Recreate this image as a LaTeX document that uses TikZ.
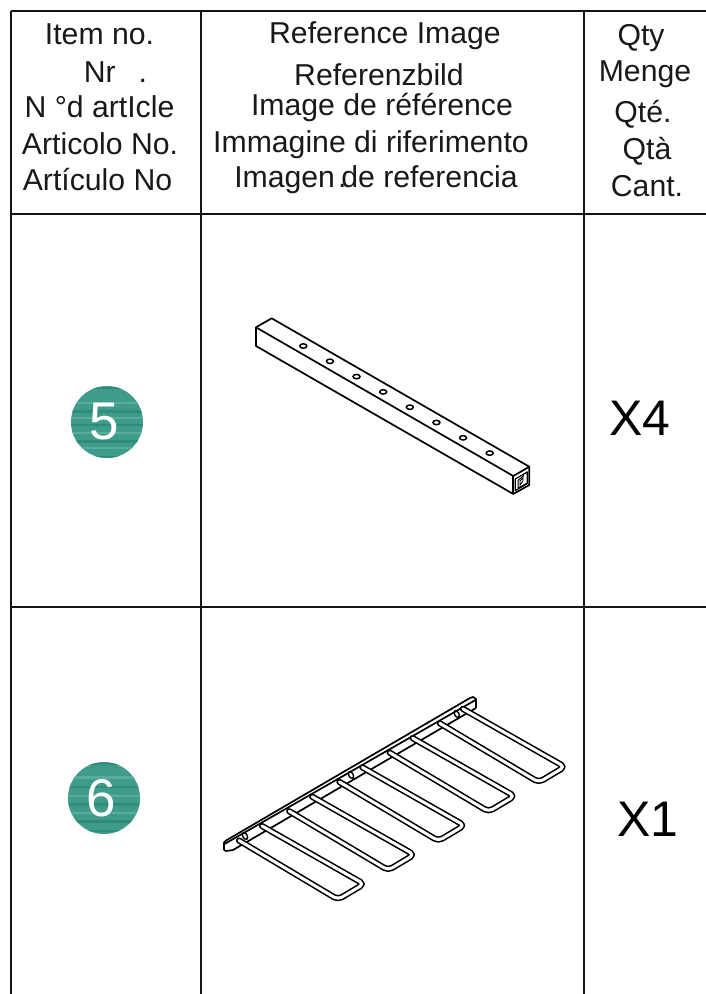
\documentclass[tikz,border=0pt]{standalone}
\usepackage{fontspec}
\setmainfont{Liberation Sans}
\definecolor{teal1}{HTML}{3F9C8A}
\definecolor{teal2}{HTML}{2F8C7A}
\definecolor{teal3}{HTML}{5AAC9C}
\tikzset{
  grid line/.style={line width=1.9pt,draw=black!92},
  part line/.style={line width=1.7pt,line join=round},
  head/.style={font=\fontsize{30.2}{31}\selectfont,anchor=base,inner sep=0pt,text=black!90},
  qtyt/.style={font=\fontsize{50}{50}\selectfont,anchor=base,inner sep=0pt,text=black},
  numt/.style={font=\fontsize{53}{53}\selectfont,anchor=center,inner sep=0pt,text=white},
  rod outer/.style={line width=6.2pt,draw=black,line cap=round,line join=round,rounded corners=4.5pt},
  rod inner/.style={line width=3pt,draw=white,line cap=round,line join=round,rounded corners=4.5pt},
  badge/.style={circle,fill=teal1,minimum size=72pt,inner sep=0pt}
}
\begin{document}
\begin{tikzpicture}[x=1pt,y=-1pt]
\useasboundingbox (0,0) rectangle (706,994);
\fill[white] (0,0) rectangle (706,994);
% grid
\coordinate (gTL) at (11,11); \coordinate (gTR) at (706,11);
\coordinate (gML) at (11,214); \coordinate (gMR) at (706,214);
\coordinate (gNL) at (11,607); \coordinate (gNR) at (706,607);
\coordinate (gBL) at (11,994);
\coordinate (c1T) at (201,11); \coordinate (c1B) at (201,994);
\coordinate (c2T) at (584,11); \coordinate (c2B) at (584,994);
\draw[grid line] (gTL) -- (gTR);
\draw[grid line] (gML) -- (gMR);
\draw[grid line] (gNL) -- (gNR);
\draw[grid line] (gTL) -- (gBL);
\draw[grid line] (c1T) -- (c1B);
\draw[grid line] (c2T) -- (c2B);
% header col 1
\node[head] (h11) at (99.5,44) {Item no.};
\node[head] (h12) at (115.5,82) {Nr\hspace{23pt}.};
\node[head] (h13) at (99.5,117) {N °d artIcle};
\node[head] (h14) at (100,154) {Articolo No.};
\node[head] (h15) at (97.5,190) {Artículo No};
% header col 2
\node[head] (h21) at (385,43) {Reference Image};
\node[head] (h22) at (379,85) {Referenzbild};
\node[head] (h23) at (382,115) {Image de référence};
\node[head] (h24) at (371,152) {Immagine di riferimento};
\node[head] (h25) at (376,187) {Imagen\kern3pt.\kern-5pt de referencia};
% header col 3
\node[head] (h31) at (641,45) {Qty};
\node[head] (h32) at (645,81) {Menge};
\node[head] (h33) at (643,122) {Qté.};
\node[head] (h34) at (647,159) {Qtà};
\node[head] (h35) at (647,196) {Cant.};
% badges
\node[badge] (b5) at (107,422) {};
\node[badge] (b6) at (104,798) {};
\begin{scope}
\clip (107,422) circle (36);
\foreach \y/\h/\c in {387/2/teal2,402/2/teal3,410/3/teal2,417/2/teal3,424/2/teal2,432/2/teal3,440/3/teal2,447/2/teal3,456/2/teal2}
  \fill[\c] (60,\y) rectangle (150,\y+\h);
\end{scope}
\begin{scope}
\clip (104,798) circle (36);
\foreach \y/\h/\c in {763/2/teal2,776/3/teal3,786/2/teal2,795/2/teal3,803/3/teal2,812/2/teal3,820/3/teal2,830/2/teal2}
  \fill[\c] (60,\y) rectangle (150,\y+\h);
\end{scope}
\node[numt] at (104.5,422) {5};
\node[numt] at (101.5,798) {6};
% quantities
\node[qtyt] (q5) at (640,435) {X4};
\node[qtyt] (q6) at (648,836) {X1};
% beam
\draw[part line] (256,327.3) -- (271.7,318.3) -- (529.3,466.7) -- (529.3,485) -- (513.3,494) -- (256,346) -- cycle;
\draw[part line] (256,327.3) -- (513.3,476) -- (529.3,466.7);
\draw[part line] (513.3,476) -- (513.3,494);
\draw[line width=1.2pt,line join=round] (515.3,479) -- (527.3,472) -- (527.3,483.6) -- (515.3,490.6) -- cycle;
\draw[line width=1pt] (518,480.5) -- (518,488) (518,480.5) -- (524,475.5) (518,488) -- (527.3,483);
\draw[line width=.9pt] (520,481) -- (523,478) -- (523,481) -- (520,485) -- cycle;
\foreach \i in {0,...,7}
  \draw[line width=1.5pt] ({303.3+\i*26.63},{346+\i*15.3}) ellipse (3.5 and 2.2);
% rack plate
\draw[part line] (224,850) -- (224,842.5) -- (226,840.5) -- (470,698) -- (473,697) -- (476,699) -- (476,708);
\draw[part line] (224.5,844) -- (475.5,700);
\draw[part line] (224,850) -- (226,851) -- (233,850) -- (476,708);
\foreach \x/\y in {245/836,351/775,456.7/714}
  \draw[line width=1.4pt,rotate around={30:(\x,\y)}] (\x,\y) ellipse (2.2 and 3.6);
% rack rods
\foreach \i in {0,...,4}{
  \begin{scope}[shift={({\i*50.2},{-\i*29.3})}]
    \draw[rod outer] (239,840.5) -- (338,899.5) -- (364,884) -- (262,826);
    \draw[rod inner] (239,840.5) -- (338,899.5) -- (364,884) -- (262,826);
  \end{scope}
}
\end{tikzpicture}
\end{document}
